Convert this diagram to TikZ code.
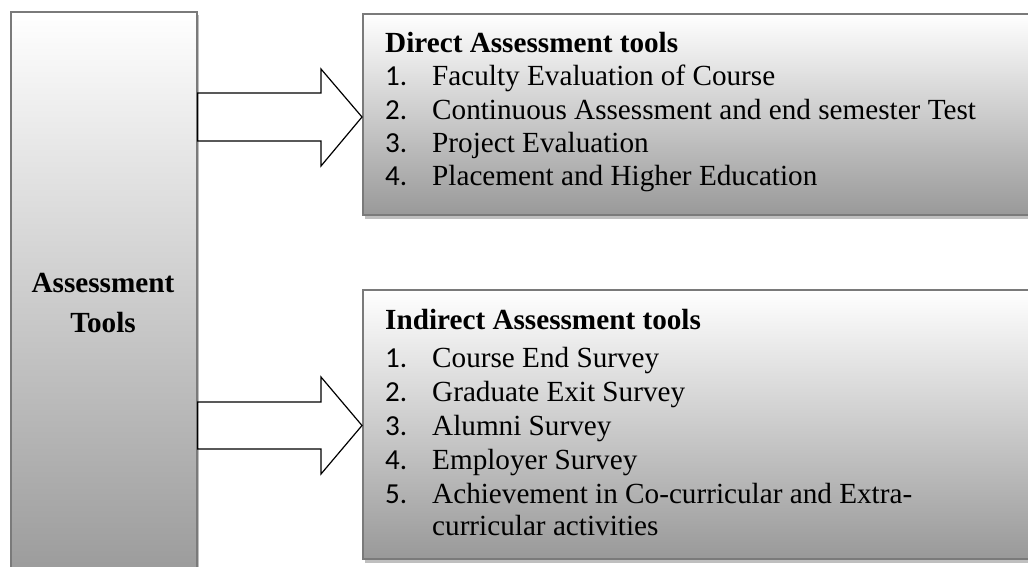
\documentclass[tikz,border=0pt]{standalone}
\usepackage{fontspec}
\setmainfont{Liberation Serif}
\newfontfamily\numfont{Carlito}
\begin{document}
\begin{tikzpicture}[x=1pt,y=-1pt,
  boxstyle/.style={draw=black!52, line width=1.8pt, top color=white, bottom color=black!40, inner sep=0pt, anchor=north west},
  shadowbox/.style={fill=black!25, draw=none, inner sep=0pt, anchor=north west},
  bigarrow/.style={draw=black, line width=1.2pt, fill=white, line join=miter},
  txt/.style={anchor=base west, inner sep=0pt, font=\fontsize{29.2}{34}\selectfont},
  num/.style={anchor=base west, inner sep=0pt, font=\numfont\fontsize{29}{34}\selectfont},
  head/.style={anchor=base west, inner sep=0pt, font=\bfseries\fontsize{29.2}{34}\selectfont},
  maintxt/.style={anchor=base, inner sep=0pt, font=\bfseries\fontsize{29.2}{34}\selectfont}
]
\useasboundingbox (0,0) rectangle (1028,566);
% shadows
\node[shadowbox, minimum width=186pt, minimum height=575pt] (mainsh) at (13,15) {};
\node[shadowbox, minimum width=680pt, minimum height=201pt] (dirsh) at (365,18) {};
\node[shadowbox, minimum width=680pt, minimum height=269pt] (indsh) at (365,294) {};
% boxes
\node[boxstyle, minimum width=186pt, minimum height=575pt] (main) at (10,11) {};
\node[boxstyle, minimum width=680pt, minimum height=201pt] (direct) at (362,13) {};
\node[boxstyle, minimum width=680pt, minimum height=269pt] (indirect) at (362,289) {};
% arrows
\draw[bigarrow] (main.east |- 0,93) -- (321,93) -- (321,69) -- (direct.west |- 0,117)
  -- (321,166) -- (321,141) -- (main.east |- 0,141) -- cycle;
\draw[bigarrow] (main.east |- 0,402) -- (321,402) -- (321,377) -- (indirect.west |- 0,425.5)
  -- (321,474) -- (321,449) -- (main.east |- 0,449) -- cycle;
% main text
\node[maintxt] (m1) at (103,292) {Assessment};
\node[maintxt] (m2) at (103,332) {Tools};
% direct
\node[head] (dh) at (385,52) {Direct Assessment tools};
\node[num] (dn1) at (385,85) {1.};
\node[txt] (dt1) at (432,85) {Faculty Evaluation of Course};
\node[num] (dn2) at (385,119) {2.};
\node[txt] (dt2) at (432,119) {Continuous Assessment and end semester Test};
\node[num] (dn3) at (385,152) {3.};
\node[txt] (dt3) at (432,152) {Project Evaluation};
\node[num] (dn4) at (385,185) {4.};
\node[txt] (dt4) at (432,185) {Placement and Higher Education};
% indirect
\node[head] (ih) at (385,329) {Indirect Assessment tools};
\node[num] (in1) at (385,367) {1.};
\node[txt] (it1) at (432,367) {Course End Survey};
\node[num] (in2) at (385,401) {2.};
\node[txt] (it2) at (432,401) {Graduate Exit Survey};
\node[num] (in3) at (385,435) {3.};
\node[txt] (it3) at (432,435) {Alumni Survey};
\node[num] (in4) at (385,469) {4.};
\node[txt] (it4) at (432,469) {Employer Survey};
\node[num] (in5) at (385,503) {5.};
\node[txt] (it5) at (432,503) {Achievement in Co-curricular and Extra-};
\node[txt] (it6) at (432,535) {curricular activities};
\end{tikzpicture}
\end{document}
